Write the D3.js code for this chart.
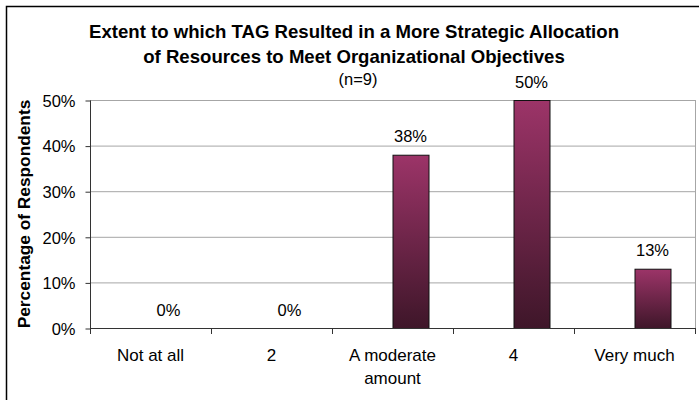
<!DOCTYPE html>
<html>
<head>
<meta charset="utf-8">
<script src="https://cdn.jsdelivr.net/npm/d3@7"></script>
<style>
  html, body { margin: 0; padding: 0; background: #fff; }
  svg { display: block; font-family: "Liberation Sans", Arial, sans-serif; }
</style>
</head>
<body>
<svg id="chart" width="699" height="400"></svg>
<script>
const categories = ["Not at all", "2", "A moderate amount", "4", "Very much"];
const categoryLines = [["Not at all"], ["2"], ["A moderate", "amount"], ["4"], ["Very much"]];
const values = [0, 0, 38, 50, 13];
const valueLabels = ["0%", "0%", "38%", "50%", "13%"];
const yTicks = [0, 10, 20, 30, 40, 50];
const titleLines = ["Extent to which TAG Resulted in a More Strategic Allocation",
                    "of Resources to Meet Organizational Objectives"];
const subtitle = "(n=9)";
const yAxisTitle = "Percentage of Respondents";

const svg = d3.select("#chart");
const plot = { left: 90, right: 695, top: 100, bottom: 328 };

// outer frame (extends beyond right/bottom edge)
svg.append("rect").attr("x", 6.5).attr("y", 6.5).attr("width", 700).attr("height", 400)
  .attr("fill", "#fff").attr("stroke", "#000").attr("stroke-width", 1.5);

const defs = svg.append("defs");
const grad = defs.append("linearGradient").attr("id", "barGrad")
  .attr("x1", 0).attr("y1", 0).attr("x2", 0).attr("y2", 1);
grad.append("stop").attr("offset", "0%").attr("stop-color", "#9c3468");
grad.append("stop").attr("offset", "100%").attr("stop-color", "#3e1629");

const x = d3.scaleBand().domain(categories).range([plot.left, plot.right]).padding(0);
const y = d3.scaleLinear().domain([0, 50]).range([plot.bottom, plot.top]);
const barW = 36;

// gridlines
svg.append("g").selectAll("line").data(yTicks.filter(d => d > 0)).join("line")
  .attr("x1", plot.left).attr("x2", plot.right)
  .attr("y1", d => y(d) + 0.5).attr("y2", d => y(d) + 0.5)
  .attr("stroke", "#a6a6a6").attr("stroke-width", 1);

// plot right border
svg.append("line").attr("x1", plot.right + 0.5).attr("x2", plot.right + 0.5)
  .attr("y1", plot.top).attr("y2", plot.bottom).attr("stroke", "#a6a6a6");

// bars
svg.append("g").selectAll("rect").data(values.map((v, i) => ({ v, c: categories[i] })))
  .join("rect")
  .filter(d => d.v > 0)
  .attr("x", d => x(d.c) + x.bandwidth() / 2 + 0.5)
  .attr("y", d => y(d.v) + 0.5)
  .attr("width", barW)
  .attr("height", d => y(0) - y(d.v))
  .attr("fill", "url(#barGrad)")
  .attr("stroke", "#111").attr("stroke-width", 1);

// value labels
svg.append("g").selectAll("text").data(values.map((v, i) => ({ v, c: categories[i], l: valueLabels[i] })))
  .join("text")
  .attr("x", d => x(d.c) + x.bandwidth() / 2 + barW / 2)
  .attr("y", d => y(d.v) - 12.5)
  .attr("text-anchor", "middle")
  .attr("font-size", "16.5px").attr("fill", "#000")
  .text(d => d.l);

// y axis
const yAxis = d3.axisLeft(y).tickValues(yTicks).tickFormat(d => d + "%").tickSize(5).tickPadding(10);
const gy = svg.append("g").attr("transform", `translate(${plot.left + 0.5},0.5)`).call(yAxis);
gy.select(".domain").attr("stroke", "#333").attr("d", `M0,${plot.top}V${plot.bottom}`);
gy.selectAll(".tick line").attr("stroke", "#333");
gy.selectAll(".tick text").attr("font-size", "16.5px").attr("fill", "#000")
  .attr("font-family", "Liberation Sans, Arial, sans-serif").attr("dy", "0.35em");

// x axis
const xTickPos = d3.range(categories.length + 1).map(i => plot.left + i * x.bandwidth());
svg.append("line").attr("x1", plot.left).attr("x2", plot.right + 1)
  .attr("y1", plot.bottom + 0.5).attr("y2", plot.bottom + 0.5).attr("stroke", "#333");
svg.append("g").selectAll("line").data(xTickPos).join("line")
  .attr("x1", d => Math.round(d) + 0.5).attr("x2", d => Math.round(d) + 0.5)
  .attr("y1", plot.bottom).attr("y2", plot.bottom + 6).attr("stroke", "#333");

const xl = svg.append("g").selectAll("text").data(categories.map((c, i) => ({ c, lines: categoryLines[i] })))
  .join("text")
  .attr("x", d => x(d.c) + x.bandwidth() / 2)
  .attr("y", 361)
  .attr("text-anchor", "middle").attr("font-size", "17px").attr("fill", "#000");
xl.selectAll("tspan").data(d => d.lines.map(l => ({ l, x: x(d.c) + x.bandwidth() / 2 }))).join("tspan")
  .attr("x", d => d.x).attr("dy", (d, i) => i === 0 ? 0 : 23).text(d => d.l);

// title
svg.append("g").selectAll("text").data(titleLines).join("text")
  .attr("x", 354).attr("y", (d, i) => 38 + i * 25)
  .attr("text-anchor", "middle").attr("font-weight", "bold").attr("font-size", "18.6px")
  .attr("fill", "#000").text(d => d);
svg.append("text").attr("x", 358).attr("y", 85).attr("text-anchor", "middle")
  .attr("font-size", "16.5px").attr("fill", "#000").text(subtitle);

// y axis title
svg.append("text").attr("transform", `translate(30,${(plot.top + plot.bottom) / 2}) rotate(-90)`)
  .attr("text-anchor", "middle").attr("font-weight", "bold").attr("font-size", "17.3px")
  .attr("fill", "#000").text(yAxisTitle);
</script>
</body>
</html>
